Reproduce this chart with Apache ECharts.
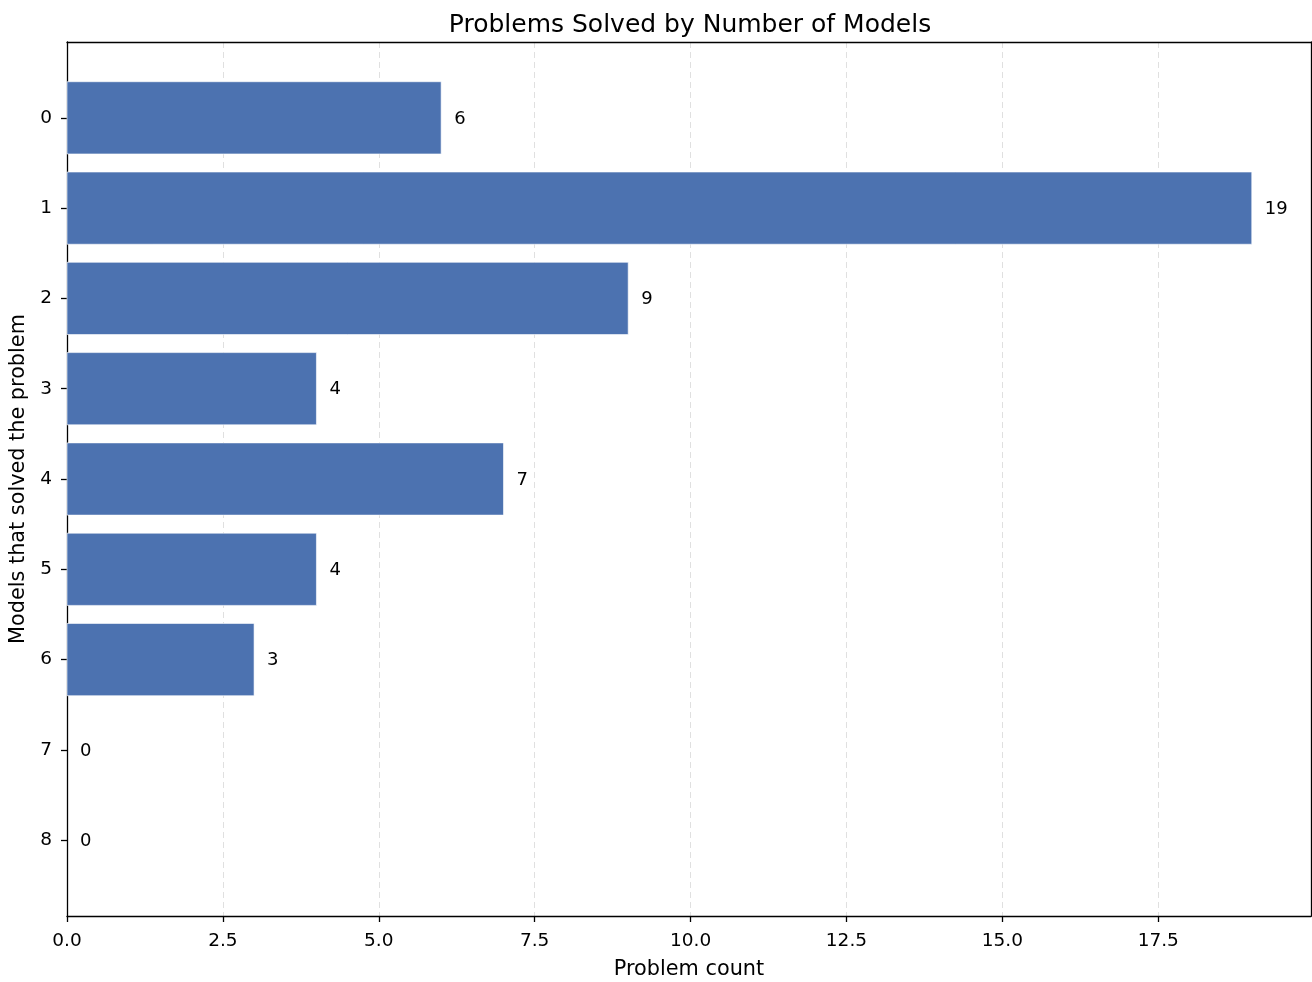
<!DOCTYPE html>
<html>
<head>
<meta charset="utf-8">
<script src="https://cdn.jsdelivr.net/npm/echarts@6/dist/echarts.min.js"></script>
<style>html,body{margin:0;padding:0;background:#fff}#c{width:1312px;height:982px}</style>
</head>
<body>
<div id="c"></div>
<script>
const categories = [0, 1, 2, 3, 4, 5, 6, 7, 8];
const counts = [6, 19, 9, 4, 7, 4, 3, 0, 0];
const xTicks = [0, 2.5, 5, 7.5, 10, 12.5, 15, 17.5];
const title = 'Problems Solved by Number of Models';
const xName = 'Problem count';
const yName = 'Models that solved the problem';

const FONT = 'DejaVu Sans';
const barData = categories.map((c, i) => [counts[i], c]);
const chart = echarts.init(document.getElementById('c'), null, {renderer: 'canvas'});
const option = {
  animation: false,
  backgroundColor: '#fff',
  title: {
    text: title, left: 685, top: 8, textAlign: 'center',
    textStyle: {fontFamily: FONT, fontSize: 25, fontWeight: 'normal', color: '#000'}
  },
  grid: {left: 67, right: 1, top: 42, bottom: 66, containLabel: false, outerBoundsMode: 'none'},
  xAxis: [{
    type: 'value', min: 0, max: 19.95, interval: 2.5,
    name: xName, nameLocation: 'middle', nameGap: 43,
    nameTextStyle: {fontFamily: FONT, fontSize: 20.8, color: '#000'},
    axisLine: {show: true, onZero: false, lineStyle: {color: '#000', width: 1.3}},
    axisTick: {show: true, length: 6, lineStyle: {color: '#000', width: 1.3}, customValues: xTicks},
    axisLabel: {fontFamily: FONT, fontSize: 18.5, color: '#000', margin: 16,
      customValues: xTicks, formatter: v => Number(v).toFixed(1)},
    splitLine: {show: true, lineStyle: {color: '#e0e0e0', type: [6, 4], width: 1}}
  }, {
    type: 'value', min: 0, max: 19.95, position: 'top',
    axisLine: {show: true, onZero: false, lineStyle: {color: '#000', width: 1.3}},
    axisTick: {show: false}, axisLabel: {show: false}, splitLine: {show: false}
  }],
  yAxis: [{
    type: 'value', inverse: true, min: -0.84, max: 8.84,
    name: yName, nameLocation: 'middle', nameGap: 31,
    nameTextStyle: {fontFamily: FONT, fontSize: 20.8, color: '#000'},
    axisLine: {show: true, onZero: false, lineStyle: {color: '#000', width: 1.3}},
    axisTick: {show: true, length: 6, lineStyle: {color: '#000', width: 1.3}, customValues: categories},
    axisLabel: {fontFamily: FONT, fontSize: 18.5, color: '#000', margin: 15, customValues: categories,
      formatter: v => String(v)},
    splitLine: {show: false}
  }, {
    type: 'value', inverse: true, min: -0.84, max: 8.84, position: 'right',
    axisLine: {show: true, onZero: false, lineStyle: {color: '#000', width: 1.3}},
    axisTick: {show: false}, axisLabel: {show: false}, splitLine: {show: false}
  }],
  series: [{
    type: 'custom',
    xAxisIndex: 0, yAxisIndex: 0,
    data: barData,
    encode: {x: 0, y: 1},
    renderItem: function (params, api) {
      const v = api.value(0), c = api.value(1);
      const p0 = api.coord([0, c - 0.4]);
      const p1 = api.coord([v, c + 0.4]);
      const mid = api.coord([v, c]);
      const children = [];
      if (v > 0) {
        children.push({
          type: 'rect',
          shape: {x: p0[0], y: p0[1], width: p1[0] - p0[0], height: p1[1] - p0[1]},
          style: {fill: '#4C72B0', stroke: '#ffffff', lineWidth: 0.6}
        });
      }
      children.push({
        type: 'text',
        style: {
          text: String(v), x: mid[0] + 13, y: mid[1] + 1,
          align: 'left', verticalAlign: 'middle',
          font: '18px "DejaVu Sans"', fill: '#000'
        }
      });
      return {type: 'group', children: children};
    }
  }]
};
chart.setOption(option);
</script>
</body>
</html>
